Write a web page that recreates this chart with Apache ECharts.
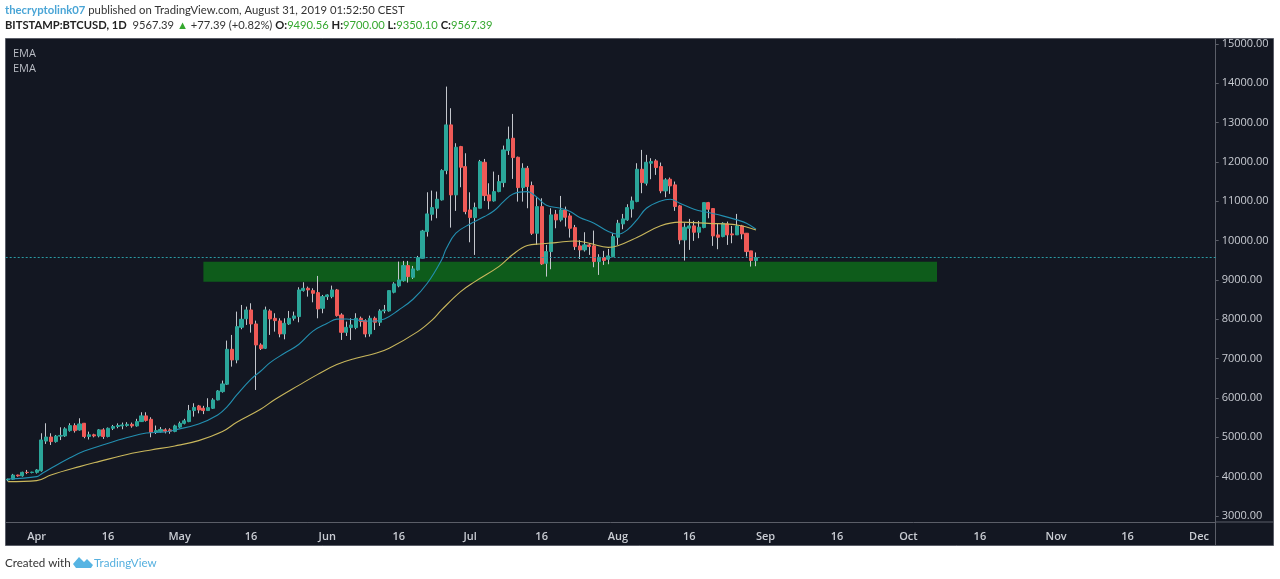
<!DOCTYPE html>
<html lang="en">
<head>
    <meta charset="UTF-8">
    <title>BTCUSD</title>
    <script src="https://cdn.jsdelivr.net/npm/echarts@6/dist/echarts.min.js"></script>
    <style>
        html, body {margin: 0; padding: 0; background: #fff;}
        #container {width: 1280px; height: 579px;}
    </style>
</head>
<body>
<div id="container"></div>
<script type="text/javascript">
var firstDay = '2019-03-26';
var dayCount = 254;

// daily candles from firstDay on: open, close, low, high
var candles = [
[3915,3935,3880,3950],[3935,4040,3925,4070],[4040,4020,4000,4050],[4020,4110,4000,4125],[4110,4105,4065,4170],[4105,4115,4085,4125],
// Apr
[4110,4170,4080,4190],[4150,4933,4128,5103],[4905,5008,4832,5357],[5008,4891,4805,5103],[4891,5030,4865,5060],
[5030,5048,4930,5255],[5035,5215,5010,5255],[5170,5298,5145,5357],[5298,5170,5120,5357],[5187,5340,5170,5484],
[5358,5020,4976,5358],[5020,5065,4945,5145],[5065,5035,5000,5090],[5035,5190,5000,5210],[5190,5020,4960,5230],
[5020,5230,5000,5250],[5230,5275,5185,5315],[5275,5300,5230,5355],[5290,5315,5205,5375],[5300,5330,5270,5385],
[5330,5290,5245,5375],[5290,5400,5270,5470],[5400,5545,5390,5637],[5545,5430,5400,5637],[5458,5128,5001,5510],
[5130,5170,5085,5300],[5145,5200,5120,5260],[5190,5155,5100,5230],[5190,5155,5090,5230],[5150,5290,5130,5320],
// May
[5260,5355,5240,5400],[5355,5420,5330,5470],[5400,5680,5385,5823],[5680,5760,5526,5866],[5798,5696,5610,5823],
[5740,5680,5590,5800],[5680,5755,5676,5993],[5738,5950,5720,5993],[5950,6179,5940,6200],[6162,6357,6137,6442],
[6349,7238,6330,7459],[7238,6967,6797,7603],[6967,7814,6882,8196],[7798,8001,7747,8365],[8014,8238,7857,8323],
[8238,7882,7662,8408],[7882,7348,6204,7967],[7348,7255,7220,7390],[7264,8238,7245,8323],[8213,8010,7603,8255],
[8026,7967,7687,8154],[7959,7628,7543,8026],[7628,7899,7492,8026],[7882,8026,7857,8213],[8026,8086,7967,8196],
[8069,8747,7925,8815],[8730,8789,8705,8942],[8789,8747,8577,8832],[8730,8662,8433,8789],[8679,8264,8026,9103],
[8281,8577,8154,8620],
// Jun
[8577,8620,8493,8637],[8577,8747,8535,8857],[8747,8094,8069,8772],[8111,7670,7476,8154],[7670,7797,7577,7942],
[7790,7857,7475,8026],[7790,8026,7747,8154],[8026,7942,7814,8069],[7967,7628,7543,8001],[7628,8026,7560,8094],
[8026,7925,7730,8069],[7925,8213,7832,8255],[8213,8238,8154,8365],[8213,8730,8196,8730],[8688,8900,8662,8942],
[8849,9001,8815,9468],[8984,9366,8960,9485],[9366,9086,8934,9485],[9069,9281,9027,9357],[9256,9569,9240,9612],
[9552,10247,9552,10273],[10230,10680,10103,11230],[10671,10841,10510,11273],[10824,11053,10570,11248],[11036,11782,11019,11815],
[11782,12943,11688,13917],[12943,11163,10332,13367],[11163,12375,10756,12477],[12392,11866,11358,12409],[11883,10739,10671,12222],
// Jul
[10781,10586,9959,11230],[10586,10841,9637,10968],[10824,12010,10824,12053],[11993,11146,11010,12078],[11163,11010,10798,11459],
[11010,11248,10993,11756],[11248,11502,11231,11671],[11476,12307,11358,12417],[12290,12578,12180,12900],[12604,12112,11570,13222],
[12120,11349,10993,12137],[11349,11841,10993,11968],[11841,11375,10824,11900],[11400,10188,10146,11502],[10188,10866,9892,11103],
[10866,9408,9383,11078],[9425,9722,9086,9892],[9722,10654,9273,10824],[10671,10527,10315,10781],[10527,10781,10485,11137],
[10781,10595,10358,10866],[10629,10315,10078,10697],[10332,9849,9764,10400],[9866,9764,9535,10011],[9765,9892,9723,10214],
[9892,9850,9638,9935],[9867,9468,9324,10256],[9468,9578,9129,9655],[9570,9494,9383,9740],[9527,9612,9400,9790],
[9595,10104,9578,10189],
// Aug
[10087,10443,9892,10528],[10426,10553,10290,10680],[10528,10841,10503,10926],[10807,11011,10587,11121],[10994,11816,10977,11969],
[11816,11477,11206,12308],[11460,11994,11401,12181],[11969,12011,11562,12096],[12028,11859,11672,12070],[11884,11265,11206,11986],
[11265,11545,11104,11587],[11562,11392,11189,11604],[11418,10867,10757,11503],[10884,10019,9909,10909],[10019,10341,9494,10443],
[10316,10375,9765,10553],[10375,10214,9994,10502],[10214,10341,10062,10502],[10333,10968,10316,10968],[10968,10799,10570,10985],
[10816,10121,9867,10824],[10146,10087,9782,10443],[10104,10443,10087,10468],[10426,10146,9892,10485],[10172,10146,9934,10375],
[10146,10375,10146,10680],[10375,10172,10036,10401],[10189,9723,9596,10189],[9740,9494,9341,9740],[9490.56,9567.39,9350.1,9700]
];

var emaFast = [
['2019-03-26',3942],['2019-04-01',4000],['2019-04-02',4069],['2019-04-04',4213],['2019-04-08',4480],['2019-04-11',4650],
['2019-04-15',4810],['2019-04-20',4993],['2019-04-24',5110],['2019-04-28',5135],['2019-04-30',5188],['2019-05-05',5340],
['2019-05-09',5569],['2019-05-11',5780],['2019-05-13',6077],['2019-05-16',6480],['2019-05-18',6680],['2019-05-20',6900],
['2019-05-23',7136],['2019-05-26',7360],['2019-05-29',7700],['2019-06-01',7899],['2019-06-03',8005],['2019-06-05',8010],
['2019-06-07',7985],['2019-06-10',7950],['2019-06-13',8010],['2019-06-16',8238],['2019-06-19',8510],['2019-06-22',8917],
['2019-06-25',9510],['2019-06-26',9800],['2019-06-28',10190],['2019-07-01',10425],['2019-07-04',10612],['2019-07-06',10760],
['2019-07-08',10993],['2019-07-10',11188],['2019-07-13',11247],['2019-07-15',11103],['2019-07-17',10900],['2019-07-20',10824],
['2019-07-22',10739],['2019-07-24',10590],['2019-07-27',10443],['2019-07-30',10231],['2019-08-01',10163],['2019-08-03',10273],
['2019-08-05',10528],['2019-08-07',10824],['2019-08-10',11011],['2019-08-12',11053],['2019-08-14',10952],['2019-08-17',10799],
['2019-08-20',10714],['2019-08-23',10630],['2019-08-26',10528],['2019-08-28',10443],['2019-08-30',10290]
];
var emaSlow = [
['2019-03-26',3874],['2019-04-01',3899],['2019-04-04',4043],['2019-04-10',4255],['2019-04-14',4382],['2019-04-21',4594],
['2019-04-25',4679],['2019-04-30',4781],['2019-05-05',4916],['2019-05-10',5145],['2019-05-13',5382],['2019-05-18',5712],
['2019-05-21',5960],['2019-05-26',6320],['2019-05-30',6600],['2019-06-03',6850],['2019-06-07',7009],['2019-06-11',7130],
['2019-06-14',7265],['2019-06-20',7687],['2019-06-23',7980],['2019-06-25',8239],['2019-06-29',8704],['2019-07-02',8958],
['2019-07-07',9339],['2019-07-10',9654],['2019-07-13',9875],['2019-07-16',9920],['2019-07-19',9951],['2019-07-23',9993],
['2019-07-26',9934],['2019-07-30',9830],['2019-08-01',9870],['2019-08-05',10080],['2019-08-10',10380],['2019-08-14',10470],
['2019-08-20',10440],['2019-08-26',10400],['2019-08-30',10270]
];

var lastPrice = 9567.39;
var zoneDays = ['2019-05-06', '2019-10-07'];
var zonePrices = [8958, 9466];
var yTicks = [3000,4000,5000,6000,7000,8000,9000,10000,11000,12000,13000,14000,15000];
var xLabels = {
    '2019-04-01': 'Apr', '2019-04-16': '16', '2019-05-01': 'May', '2019-05-16': '16',
    '2019-06-01': 'Jun', '2019-06-16': '16', '2019-07-01': 'Jul', '2019-07-16': '16',
    '2019-08-01': 'Aug', '2019-08-16': '16', '2019-09-01': 'Sep', '2019-09-16': '16',
    '2019-10-01': 'Oct', '2019-10-16': '16', '2019-11-01': 'Nov', '2019-11-16': '16',
    '2019-12-01': 'Dec'
};

var categories = [];
for (var i = 0; i < dayCount; i++) {
    var d = new Date(Date.parse(firstDay + 'T00:00:00Z') + i * 86400000);
    categories.push(d.toISOString().slice(0, 10));
}

var bodies = candles.map(function (c) {
    return [c[0], c[1], Math.min(c[0], c[1]), Math.max(c[0], c[1])];
});

var upColor = '#2ba69a';
var downColor = '#ef5a57';
var wickColor = '#c3c6cc';
var axisColor = '#5b5e68';
var labelColor = '#c9ccd3';
var fontName = '"Open Sans", sans-serif';
var headFont = 'Lato, sans-serif';

var hasLabel = function (index, value) {
    return xLabels[value] !== undefined;
};

var myChart = echarts.init(document.getElementById('container'));
var option = {
    animation: false,
    backgroundColor: '#fff',
    title: [{
        left: 5,
        top: 5,
        padding: 0,
        text: '{user|thecryptolink07} published on TradingView.com, August 31, 2019 01:52:50 CEST',
        textStyle: {
            fontFamily: headFont, fontSize: 11.3, fontWeight: 'normal', color: '#333',
            rich: {user: {fontFamily: headFont, fontSize: 11.3, fontWeight: 'bold', color: '#4aa5d6'}}
        }
    }, {
        left: 5,
        top: 20,
        padding: 0,
        text: '{b|BITSTAMP:BTCUSD, 1D}  9567.39 {g|▲} +77.39 (+0.82%) {b|O:}{g|9490.56} {b|H:}{g|9700.00} {b|L:}{g|9350.10} {b|C:}{g|9567.39}',
        textStyle: {
            fontFamily: headFont, fontSize: 11.2, fontWeight: 'normal', color: '#333',
            rich: {
                b: {fontFamily: headFont, fontSize: 11.2, fontWeight: 'bold', color: '#222'},
                g: {fontFamily: headFont, fontSize: 11.2, color: '#35a82f'}
            }
        }
    }],
    grid: {left: 5.7, top: 39, width: 1210, height: 483},
    xAxis: {
        type: 'category',
        data: categories,
        boundaryGap: true,
        axisLine: {lineStyle: {color: axisColor}},
        axisTick: {alignWithLabel: true, length: 3, interval: hasLabel, lineStyle: {color: axisColor}},
        axisLabel: {
            interval: hasLabel,
            margin: 9,
            color: labelColor,
            fontFamily: fontName,
            fontSize: 11,
            fontWeight: 600,
            formatter: function (value) {
                return xLabels[value];
            }
        },
        splitLine: {show: false}
    },
    yAxis: {
        type: 'value',
        position: 'right',
        min: 2847,
        max: 15127,
        axisLine: {show: true, lineStyle: {color: axisColor}},
        axisTick: {show: true, length: 3, customValues: yTicks, lineStyle: {color: axisColor}},
        axisLabel: {
            customValues: yTicks,
            margin: 6,
            color: labelColor,
            fontFamily: fontName,
            fontSize: 11,
            formatter: function (value) {
                return value.toFixed(2);
            }
        },
        splitLine: {show: false}
    },
    series: [{
        name: 'zone',
        type: 'line',
        data: [],
        z: 1,
        markArea: {
            silent: true,
            itemStyle: {color: '#0e5c1b'},
            data: [[{xAxis: zoneDays[0], yAxis: zonePrices[0]}, {xAxis: zoneDays[1], yAxis: zonePrices[1]}]]
        }
    }, {
        name: 'wicks',
        type: 'candlestick',
        data: candles,
        barWidth: 0,
        z: 3,
        itemStyle: {
            color: wickColor, color0: wickColor,
            borderColor: wickColor, borderColor0: wickColor, borderColorDoji: wickColor,
            borderWidth: 1
        }
    }, {
        name: 'BTCUSD',
        type: 'candlestick',
        data: bodies,
        barWidth: 3.6,
        z: 4,
        itemStyle: {
            color: upColor, color0: downColor,
            borderColor: upColor, borderColor0: downColor,
            borderWidth: 1
        }
    }, {
        name: 'EMA',
        type: 'line',
        data: emaFast,
        z: 5,
        showSymbol: false,
        smooth: 0.4,
        lineStyle: {color: '#238fb0', width: 1.1}
    }, {
        name: 'EMA',
        type: 'line',
        data: emaSlow,
        z: 5,
        showSymbol: false,
        smooth: 0.4,
        lineStyle: {color: '#c9b75c', width: 1.1},
        markLine: {
            silent: true,
            symbol: 'none',
            label: {show: false},
            lineStyle: {color: '#2a9aa3', width: 1, type: [2, 2]},
            data: [{yAxis: lastPrice}]
        }
    }],
    graphic: [
        {type: 'rect', silent: true, z: -1, shape: {x: 5.5, y: 38.5, width: 1268, height: 507},
            style: {fill: '#131722', stroke: axisColor, lineWidth: 1}},
        {type: 'line', silent: true, shape: {x1: 1216, y1: 522, x2: 1274, y2: 522}, style: {stroke: axisColor}},
        {type: 'line', silent: true, shape: {x1: 1215.5, y1: 522, x2: 1215.5, y2: 546}, style: {stroke: axisColor}},
        {type: 'text', left: 13, top: 48, style: {text: 'EMA', fill: '#b9bcc4', font: '11px "Open Sans", sans-serif'}},
        {type: 'text', left: 13, top: 63, style: {text: 'EMA', fill: '#b9bcc4', font: '11px "Open Sans", sans-serif'}},
        {type: 'text', left: 5, top: 557, style: {text: 'Created with', fill: '#333', font: '11.6px Lato, sans-serif'}},
        {type: 'polygon', silent: true, left: 73, top: 557,
            shape: {points: [[0,8],[6,1],[11,6],[14,3],[20,9],[18,12],[3,12]]},
            style: {fill: '#56b4e3'}},
        {type: 'text', left: 94, top: 557, style: {text: 'TradingView', fill: '#56b0df', font: '11.6px Lato, sans-serif'}}
    ]
};
myChart.setOption(option);
</script>
</body>
</html>
